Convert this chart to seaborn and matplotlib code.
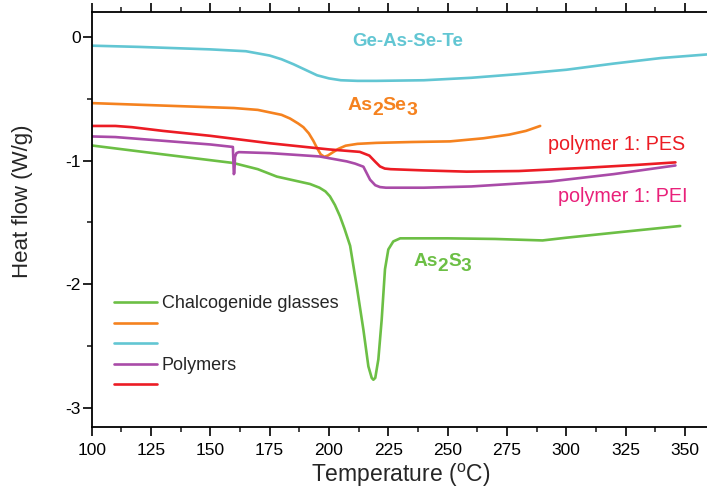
import numpy as np
import pandas as pd
import matplotlib
matplotlib.use("Agg")
import matplotlib.pyplot as plt
import seaborn as sns
from matplotlib.ticker import MultipleLocator
from matplotlib.lines import Line2D

# DSC traces: temperature (°C) and heat flow (W/g)
as2s3_T = [100, 130, 159.7, 170, 178, 185, 192, 196, 198.5, 200.4, 202.5, 204.6, 206.5,
           208.9, 211.7, 214.5, 216.6, 218, 218.7, 219.5, 220.8, 222.2, 223.6, 225, 227.1,
           230, 250, 270, 290, 300, 320, 348]
as2s3_q = [-0.878, -0.95, -1.02, -1.07, -1.13, -1.16, -1.19, -1.22, -1.25, -1.29, -1.36, -1.45,
           -1.55, -1.69, -2.02, -2.37, -2.667, -2.76, -2.775, -2.76, -2.61, -2.29, -1.88, -1.72,
           -1.655, -1.63, -1.63, -1.635, -1.647, -1.625, -1.585, -1.53]

as2se3_T = [100, 130, 160, 170, 175, 180, 183.6, 187, 189.2, 191.5, 193.4, 195, 196.5, 198,
            199.5, 201.5, 204, 207, 212, 220, 235, 251, 265, 276, 283, 289]
as2se3_q = [-0.535, -0.555, -0.575, -0.59, -0.61, -0.63, -0.66, -0.70, -0.73, -0.78, -0.84,
            -0.90, -0.95, -0.97, -0.96, -0.935, -0.905, -0.88, -0.865, -0.857, -0.85, -0.845,
            -0.82, -0.79, -0.76, -0.72]

gast_T = [100, 120, 150, 165, 175, 180, 185, 190, 195, 200, 205, 212, 220, 240, 260, 280,
          300, 320, 340, 360]
gast_q = [-0.07, -0.08, -0.10, -0.115, -0.15, -0.18, -0.22, -0.265, -0.31, -0.335, -0.35,
          -0.355, -0.355, -0.35, -0.33, -0.30, -0.265, -0.215, -0.17, -0.14]

pei_T = [100, 110, 130, 150, 159.5, 159.9, 160.1, 160.4, 161, 162, 175, 196, 207.5, 211,
         214.5, 217.3, 219.5, 221.5, 224, 240, 260, 293, 320, 346]
pei_q = [-0.805, -0.81, -0.84, -0.87, -0.89, -1.11, -1.10, -0.97, -0.94, -0.932, -0.94,
         -0.967, -1.007, -1.025, -1.05, -1.155, -1.20, -1.215, -1.22, -1.22, -1.21, -1.17,
         -1.11, -1.04]

pes_T = [100, 110, 117, 130, 150, 162.5, 175, 200, 213, 217, 219.5, 221.5, 223.5, 226,
         240, 258, 280, 307, 330, 346]
pes_q = [-0.72, -0.72, -0.73, -0.76, -0.80, -0.83, -0.86, -0.91, -0.93, -0.96, -1.01,
         -1.048, -1.065, -1.07, -1.08, -1.09, -1.085, -1.06, -1.035, -1.015]

legend_labels = ["Chalcogenide glasses", "", "", "Polymers", ""]

GREEN = "#6cbf45"
ORANGE = "#f5821f"
CYAN = "#62c6d3"
PURPLE = "#a94ba8"
RED = "#ec1c24"
PINK = "#e9217a"

sns.set_theme(style="ticks")
plt.rcParams["font.family"] = ["Liberation Sans", "DejaVu Sans"]
plt.rcParams["mathtext.fontset"] = "custom"
plt.rcParams["mathtext.rm"] = "Liberation Sans"
plt.rcParams["mathtext.bf"] = "Liberation Sans:bold"
plt.rcParams["mathtext.it"] = "Liberation Sans:italic"
plt.rcParams["axes.unicode_minus"] = False

fig = plt.figure(figsize=(7.07, 5.03), dpi=100)
ax = fig.add_axes([0.1297, 0.1505, 0.8703, 0.825])

series = [
    (as2s3_T, as2s3_q, GREEN),
    (as2se3_T, as2se3_q, ORANGE),
    (gast_T, gast_q, CYAN),
    (pei_T, pei_q, PURPLE),
    (pes_T, pes_q, RED),
]
for T, q, c in series:
    df = pd.DataFrame({"T": T, "q": q})
    sns.lineplot(data=df, x="T", y="q", color=c, linewidth=1.9, sort=False,
                 estimator=None, ax=ax)

ax.set_xlim(100, 359.3)
ax.set_ylim(-3.16, 0.2)
ax.xaxis.set_major_locator(MultipleLocator(25))
ax.xaxis.set_minor_locator(MultipleLocator(12.5))
ax.yaxis.set_major_locator(MultipleLocator(1))
ax.yaxis.set_minor_locator(MultipleLocator(0.5))

for s in ["left", "bottom", "top"]:
    ax.spines[s].set_linewidth(1.3)
    ax.spines[s].set_color("black")
ax.spines["right"].set_visible(False)

ax.tick_params(axis="both", which="major", length=6.5, width=1.2, direction="out",
               labelsize=12.5, colors="black")
ax.tick_params(axis="both", which="minor", length=3.3, width=1.2, direction="out")
ax.tick_params(axis="x", which="both", top=True, labeltop=False, pad=4.5)
ax.tick_params(axis="y", which="both", right=False, pad=1.5)

ax.set_xlabel(r"Temperature ($^\mathrm{o}$C)", fontsize=16.5)
ax.set_ylabel("Heat flow (W/g)", fontsize=16)
ax.xaxis.set_label_coords(0.5016, -0.083)
ax.yaxis.set_label_coords(-0.0954, 0.544)

renderer = fig.canvas.get_renderer()


def formula(x, y, parts, color, size, drop=3.6):
    """Write a chemical formula with full-size, lowered subscript digits."""
    offset = 0.0
    for txt, is_sub in parts:
        t = ax.annotate(txt, (x, y), xytext=(offset, -drop if is_sub else 0),
                        textcoords="offset points", color=color, fontsize=size,
                        fontweight="bold", ha="left", va="baseline")
        offset += t.get_window_extent(renderer).width * 72.0 / fig.dpi


# Sample annotations
ax.text(210.0, -0.076, "Ge-As-Se-Te", color=CYAN, fontsize=13.5, fontweight="bold",
        ha="left", va="baseline")
formula(207.6, -0.589, [("As", False), ("2", True), ("Se", False), ("3", True)],
        ORANGE, 14)
formula(235.5, -1.858, [("As", False), ("2", True), ("S", False), ("3", True)],
        GREEN, 13.8)
ax.text(292.3, -0.913, "polymer 1: PES", color=RED, fontsize=14.2,
        ha="left", va="baseline")
ax.text(296.6, -1.339, "polymer 1: PEI", color=PINK, fontsize=14.2,
        ha="left", va="baseline")

handles = [Line2D([], [], color=c, linewidth=1.9) for _, _, c in series]
leg = ax.legend(handles, legend_labels, loc="upper left", bbox_to_anchor=(0.0362, 0.318),
                frameon=False, fontsize=13, borderpad=0, borderaxespad=0,
                handlelength=2.36, handletextpad=0.3, labelspacing=0.2)

fig.savefig("out.png", dpi=100)
